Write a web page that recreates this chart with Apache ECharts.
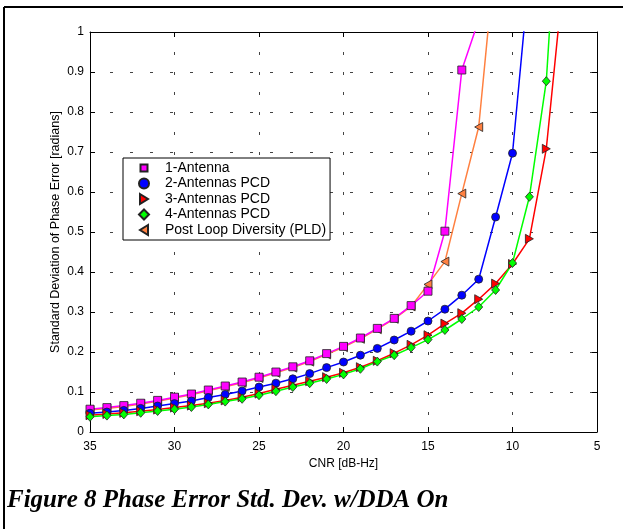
<!DOCTYPE html>
<html>
<head>
<meta charset="utf-8">
<script src="https://cdn.jsdelivr.net/npm/echarts@6/dist/echarts.min.js"></script>
<style>
  html, body { margin: 0; padding: 0; background: #fff; }
  #graph { width: 623px; height: 529px; }
</style>
</head>
<body>
<div id="graph"></div>
<script>
// CNR values (dB-Hz), one marker per dB
var cnr = [35, 34, 33, 32, 31, 30, 29, 28, 27, 26, 25, 24, 23, 22, 21, 20, 19, 18, 17, 16, 15, 14, 13, 12, 11, 10, 9, 8, 7];

// std dev of phase error [rad]; the last value of each list is off the top of the plot (line only)
var oneAntenna = [0.057, 0.061, 0.066, 0.072, 0.079, 0.087, 0.095, 0.105, 0.115, 0.125, 0.137, 0.150, 0.163, 0.178, 0.196, 0.214, 0.235, 0.259, 0.284, 0.316, 0.352, 0.502, 0.905, 1.03];
var twoAntennas = [0.047, 0.050, 0.054, 0.059, 0.065, 0.071, 0.0775, 0.086, 0.094, 0.1025, 0.1125, 0.122, 0.133, 0.146, 0.161, 0.175, 0.192, 0.209, 0.230, 0.252, 0.2775, 0.307, 0.342, 0.382, 0.5375, 0.697, 1.15];
var threeAntennas = [0.042, 0.045, 0.048, 0.052, 0.056, 0.061, 0.066, 0.072, 0.079, 0.087, 0.096, 0.107, 0.117, 0.127, 0.137, 0.148, 0.162, 0.178, 0.197, 0.218, 0.242, 0.271, 0.297, 0.332, 0.371, 0.42, 0.483, 0.708, 1.13];
var fourAntennas = [0.038, 0.041, 0.044, 0.048, 0.0525, 0.057, 0.0625, 0.069, 0.076, 0.083, 0.092, 0.102, 0.1125, 0.122, 0.1325, 0.144, 0.158, 0.176, 0.192, 0.211, 0.231, 0.255, 0.2825, 0.3125, 0.355, 0.4225, 0.588, 0.877, 1.55];
var pld = [0.055, 0.059, 0.064, 0.070, 0.077, 0.085, 0.093, 0.103, 0.113, 0.123, 0.135, 0.148, 0.161, 0.176, 0.194, 0.212, 0.233, 0.257, 0.283, 0.314, 0.369, 0.426, 0.596, 0.7625, 1.2];

var legendNames = ['1-Antenna', '2-Antennas PCD', '3-Antennas PCD', '4-Antennas PCD', 'Post Loop Diversity (PLD)'];

var triRight = 'path://M0,0L10,5L0,10Z';
var triLeft = 'path://M10,0L0,5L10,10Z';

function points(vals) {
    return vals.map(function (v, i) {
        var item = { value: [cnr[i], v] };
        if (i === vals.length - 1) item.symbol = 'none';
        return item;
    });
}

function curve(name, vals, color, symbol, size) {
    return {
        name: name,
        type: 'line',
        data: points(vals),
        symbol: symbol,
        symbolSize: size,
        clip: true,
        animation: false,
        lineStyle: { color: color, width: 1.5 },
        itemStyle: { color: color, borderColor: '#222', borderWidth: 0.8 }
    };
}

var font = 'Liberation Sans, Arial, sans-serif';
var gridDash = { color: '#444', width: 1, type: [3, 17] };

var dom = document.getElementById('graph');
var myChart = echarts.init(dom, null, { renderer: 'canvas' });

var option = {
    backgroundColor: '#fff',
    animation: false,
    grid: { left: 90, top: 32, right: 26, bottom: 97 },
    legend: {
        orient: 'vertical',
        left: 123,
        top: 158,
        padding: [3, 4, 3, 15],
        itemWidth: 32,
        itemHeight: 10,
        itemGap: 1.5,
        backgroundColor: '#fff',
        borderColor: '#000',
        borderWidth: 1,
        borderRadius: 0,
        textStyle: { fontFamily: font, fontSize: 14, color: '#000', lineHeight: 14 },
        data: [
            { name: legendNames[0], icon: 'path://M0,0M10,10M1.5,1.5H8.5V8.5H1.5Z' },
            { name: legendNames[1], icon: 'path://M5,0A5,5 0 1,1 5,10A5,5 0 1,1 5,0Z' },
            { name: legendNames[2], icon: 'path://M1,0L9,5L1,10Z' },
            { name: legendNames[3], icon: 'path://M5,0L10,5L5,10L0,5Z' },
            { name: legendNames[4], icon: 'path://M9,0L1,5L9,10Z' }
        ]
    },
    xAxis: [{
        type: 'value',
        inverse: true,
        min: 5,
        max: 35,
        interval: 5,
        name: 'CNR [dB-Hz]',
        nameLocation: 'middle',
        nameGap: 24,
        nameTextStyle: { fontFamily: font, fontSize: 12, color: '#000' },
        axisLine: { lineStyle: { color: '#000', width: 1 } },
        axisTick: { inside: true, length: 5, lineStyle: { color: '#000' } },
        axisLabel: { fontFamily: font, fontSize: 12, color: '#000', margin: 9 },
        splitLine: { show: true, lineStyle: gridDash }
    }, {
        type: 'value',
        position: 'top',
        inverse: true,
        min: 5,
        max: 35,
        interval: 5,
        axisLine: { show: true, onZero: false, lineStyle: { color: '#000', width: 1 } },
        axisTick: { inside: true, length: 5, lineStyle: { color: '#000' } },
        axisLabel: { show: false },
        splitLine: { show: false }
    }],
    yAxis: [{
        type: 'value',
        min: 0,
        max: 1,
        interval: 0.1,
        name: 'Standard Deviation of Phase Error [radians]',
        nameLocation: 'middle',
        nameGap: 28,
        nameMoveOverlap: false,
        nameTextStyle: { fontFamily: font, fontSize: 12.5, color: '#000' },
        axisLine: { show: true, lineStyle: { color: '#000', width: 1 } },
        axisTick: { show: true, inside: true, length: 5, lineStyle: { color: '#000' } },
        axisLabel: {
            fontFamily: font, fontSize: 12, color: '#000', margin: 6,
            formatter: function (v) { return String(+v.toFixed(1)); }
        },
        splitLine: { show: true, lineStyle: gridDash }
    }, {
        type: 'value',
        position: 'right',
        min: 0,
        max: 1,
        interval: 0.1,
        axisLine: { show: true, onZero: false, lineStyle: { color: '#000', width: 1 } },
        axisTick: { show: true, inside: true, length: 5, lineStyle: { color: '#000' } },
        axisLabel: { show: false },
        splitLine: { show: false }
    }],
    series: [
        curve(legendNames[4], pld, '#ff8040', triLeft, [8, 9]),
        curve(legendNames[0], oneAntenna, '#ff00ff', 'rect', 8),
        curve(legendNames[1], twoAntennas, '#0000ff', 'circle', 8),
        curve(legendNames[2], threeAntennas, '#ff0000', triRight, [8, 9]),
        curve(legendNames[3], fourAntennas, '#00ff00', 'diamond', [8, 9])
    ],
    graphic: [
        { type: 'line', shape: { x1: 4, y1: 7, x2: 623, y2: 7 }, style: { stroke: '#000', lineWidth: 2 } },
        { type: 'line', shape: { x1: 4, y1: 7, x2: 4, y2: 529 }, style: { stroke: '#000', lineWidth: 2 } },
        {
            type: 'text', left: 7, top: 488,
            style: {
                text: 'Figure 8 Phase Error Std. Dev. w/DDA On',
                font: 'italic bold 25px "Liberation Serif", "Times New Roman", serif',
                fill: '#000'
            }
        }
    ]
};

if (option && typeof option === "object") {
    myChart.setOption(option, true);
}
</script>
</body>
</html>
